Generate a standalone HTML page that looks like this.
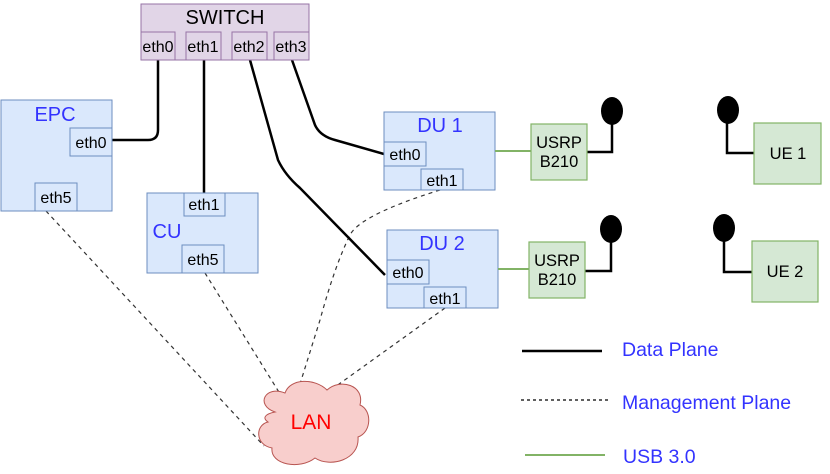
<!DOCTYPE html>
<html><head><meta charset="utf-8"><style>
html,body{margin:0;padding:0;background:#fff;}
svg{display:block;font-family:"Liberation Sans",sans-serif;}
</style></head><body>
<svg width="830" height="474" viewBox="0 0 830 474" xmlns="http://www.w3.org/2000/svg">
<g fill="none" stroke="#333" stroke-width="1.2" stroke-dasharray="4,4">
<path d="M46 211 L264 446"/>
<path d="M205 273 L282 397"/>
<path d="M440 190 Q360 215 350 235 Q335 265 320 320 L300 384"/>
<path d="M445 308 L328 392"/>
</g>
<g fill="none" stroke="#000" stroke-width="2.5">
<path d="M158 60 L158 130 Q158 140 148 140 L112 140"/>
<path d="M204 60 L204 193"/>
<path d="M250 60 L278 160 Q285 175 300 188 L385 275"/>
<path d="M292 60 L315 125 Q320 136 335 140 L384 154"/>
</g>
<rect x="141" y="4" width="168" height="56" fill="#e1d5e7" stroke="#9673a6" stroke-width="1"/>
<text x="225" y="24" font-size="20" text-anchor="middle">SWITCH</text>
<g fill="#e1d5e7" stroke="#9673a6"><rect x="141" y="32" width="34" height="28"/><rect x="186" y="32" width="35" height="28"/><rect x="232" y="32" width="35" height="28"/><rect x="274" y="32" width="35" height="28"/></g>
<g font-size="16" text-anchor="middle"><text x="158" y="52">eth0</text><text x="203" y="52">eth1</text><text x="249" y="52">eth2</text><text x="291" y="52">eth3</text></g>
<rect x="1" y="100" width="111" height="111" fill="#dae8fc" stroke="#6c8ebf"/>
<text x="55" y="121" font-size="20" fill="#3333ff" text-anchor="middle">EPC</text>
<rect x="70" y="128" width="42" height="28" fill="#dae8fc" stroke="#6c8ebf"/>
<text x="91" y="148" font-size="16" text-anchor="middle">eth0</text>
<rect x="35" y="183" width="42" height="28" fill="#dae8fc" stroke="#6c8ebf"/>
<text x="56" y="203" font-size="16" text-anchor="middle">eth5</text>
<rect x="147" y="193" width="111" height="80" fill="#dae8fc" stroke="#6c8ebf"/>
<text x="167" y="238" font-size="20" fill="#3333ff" text-anchor="middle">CU</text>
<rect x="184" y="193" width="41" height="23" fill="#dae8fc" stroke="#6c8ebf"/>
<text x="204" y="210" font-size="16" text-anchor="middle">eth1</text>
<rect x="182" y="245" width="42" height="28" fill="#dae8fc" stroke="#6c8ebf"/>
<text x="203" y="265" font-size="16" text-anchor="middle">eth5</text>
<rect x="384" y="112" width="111" height="78" fill="#dae8fc" stroke="#6c8ebf"/>
<text x="440" y="132" font-size="20" fill="#3333ff" text-anchor="middle">DU 1</text>
<rect x="384" y="142" width="42" height="24" fill="#dae8fc" stroke="#6c8ebf"/>
<text x="405" y="160" font-size="16" text-anchor="middle">eth0</text>
<rect x="421" y="169" width="42" height="21" fill="#dae8fc" stroke="#6c8ebf"/>
<text x="442" y="186" font-size="16" text-anchor="middle">eth1</text>
<rect x="387" y="230" width="111" height="78" fill="#dae8fc" stroke="#6c8ebf"/>
<text x="442" y="250" font-size="20" fill="#3333ff" text-anchor="middle">DU 2</text>
<rect x="387" y="260" width="42" height="24" fill="#dae8fc" stroke="#6c8ebf"/>
<text x="408" y="278" font-size="16" text-anchor="middle">eth0</text>
<rect x="424" y="287" width="42" height="21" fill="#dae8fc" stroke="#6c8ebf"/>
<text x="445" y="304" font-size="16" text-anchor="middle">eth1</text>
<g stroke="#82b366" stroke-width="2"><line x1="495" y1="151" x2="531" y2="151"/><line x1="498" y1="269" x2="529" y2="269"/></g>
<g fill="none" stroke="#000" stroke-width="2.5">
<path d="M587 152 L612 152 L612 122"/>
<path d="M585 271 L611 271 L611 240"/>
<path d="M754 153 L727 153 L727 122"/>
<path d="M752 272 L724 272 L724 240"/>
</g>
<g fill="#000"><ellipse cx="612" cy="111" rx="11" ry="14"/><ellipse cx="611" cy="229" rx="11" ry="14"/><ellipse cx="728" cy="110" rx="11" ry="14"/><ellipse cx="724" cy="228" rx="11" ry="14"/></g>
<g fill="#d5e8d4" stroke="#82b366" stroke-width="1.2">
<rect x="531" y="124" width="56" height="56"/><rect x="529" y="242" width="56" height="56"/>
<rect x="754" y="123" width="67" height="61"/><rect x="752" y="241" width="66" height="61"/>
</g>
<g font-size="16.5" text-anchor="middle">
<text x="559" y="148">USRP</text><text x="559" y="167">B210</text>
<text x="557" y="266">USRP</text><text x="557" y="285">B210</text>
<text x="788" y="159">UE 1</text><text x="785" y="277">UE 2</text>
</g>
<path d="M275 412 C255 405 265 385 285 393 C290 378 315 378 327 390 C340 378 365 385 360 405 C372 410 372 432 358 437 C360 460 330 468 315 458 C300 470 270 465 272 448 C255 445 255 425 268 422 C262 418 265 414 275 412 Z" fill="#f8cecc" stroke="#b85450" stroke-width="1"/>
<text x="311" y="429" font-size="21" fill="#ff0000" text-anchor="middle">LAN</text>
<line x1="522" y1="351" x2="602" y2="351" stroke="#000" stroke-width="2.5"/>
<line x1="521" y1="400" x2="608" y2="400" stroke="#000" stroke-width="1.2" stroke-dasharray="3,3"/>
<line x1="525" y1="455" x2="605" y2="455" stroke="#82b366" stroke-width="2"/>
<g font-size="19.5" fill="#3333ff">
<text x="622" y="356">Data Plane</text>
<text x="622" y="409">Management Plane</text>
<text x="623" y="463">USB 3.0</text>
</g>
</svg>
</body></html>
